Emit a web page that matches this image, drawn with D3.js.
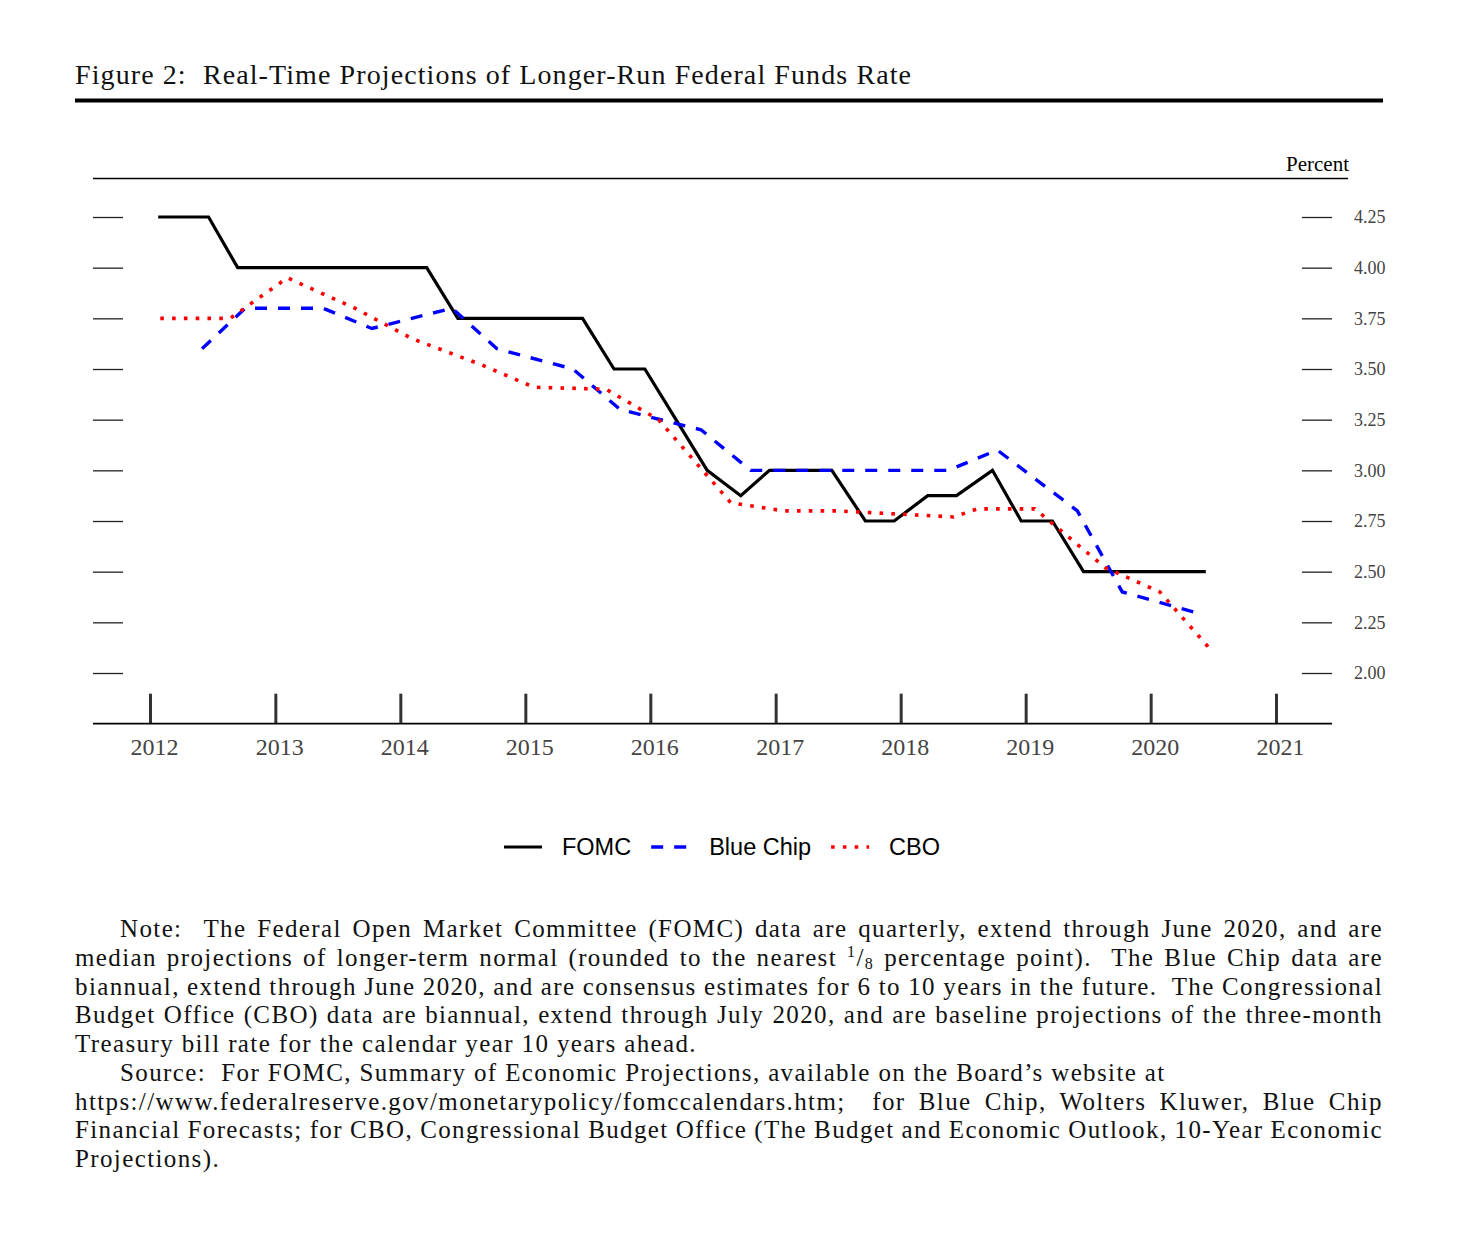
<!DOCTYPE html>
<html>
<head>
<meta charset="utf-8">
<script src="https://cdn.jsdelivr.net/npm/d3@7"></script>
<style>
  body { margin: 0; background: #fff; }
  svg { display: block; }
</style>
</head>
<body>
<svg id="chart" width="1484" height="1251"></svg>
<script>
// FOMC SEP median, longer run (quarterly)
var fomcDates = ["2012-01-25","2012-04-25","2012-06-20","2012-09-13","2012-12-12",
    "2013-03-20","2013-06-19","2013-09-18","2013-12-18","2014-03-19","2014-06-18",
    "2014-09-17","2014-12-17","2015-03-18","2015-06-17","2015-09-17","2015-12-16",
    "2016-03-16","2016-06-15","2016-09-21","2016-12-14","2017-03-15","2017-06-14",
    "2017-09-20","2017-12-13","2018-03-21","2018-06-13","2018-09-26","2018-12-19",
    "2019-03-20","2019-06-19","2019-09-18","2019-12-11","2020-06-10"];
var fomcValues = [4.25,4.25,4.25,4.00,4.00,
    4.00,4.00,4.00,4.00,4.00,3.75,
    3.75,3.75,3.75,3.75,3.50,3.50,
    3.25,3.00,2.875,3.00,3.00,3.00,
    2.75,2.75,2.875,2.875,3.00,2.75,
    2.75,2.50,2.50,2.50,2.50];

// Blue Chip consensus (biannual)
var blueChipDates = ["2012-06-01","2012-10-05","2013-05-20","2013-10-10","2014-06-01",
    "2014-10-10","2015-05-20","2015-10-05","2016-05-28","2016-10-20","2017-06-01",
    "2017-10-10","2018-05-20","2018-10-10","2019-06-01","2019-10-10","2020-05-08"];
var blueChipValues = [3.60,3.80,3.80,3.70,3.80,
    3.60,3.50,3.30,3.20,3.00,3.00,
    3.00,3.00,3.10,2.80,2.40,2.30];

// CBO 3-month bill, 10 years ahead (biannual)
var cboDates = ["2012-01-31","2012-08-22","2013-02-05","2013-08-21","2014-02-04",
    "2014-08-27","2015-01-26","2015-08-25","2016-01-25","2016-08-23","2017-01-24",
    "2017-06-29","2018-06-05","2018-08-13","2019-01-28","2019-08-21","2020-01-28",
    "2020-07-02"];
var cboValues = [3.75,3.75,3.95,3.80,3.65,
    3.52,3.41,3.40,3.25,2.84,2.80,
    2.80,2.77,2.81,2.81,2.52,2.40,
    2.10];

var yearTicks = [2012,2013,2014,2015,2016,2017,2018,2019,2020,2021];
var yTicks = [2.00,2.25,2.50,2.75,3.00,3.25,3.50,3.75,4.00,4.25];

var seriesNames = ["FOMC", "Blue Chip", "CBO"];

var titleText = "Figure 2:  Real-Time Projections of Longer-Run Federal Funds Rate";

var noteLines = [
    "Note:  The Federal Open Market Committee (FOMC) data are quarterly, extend through June 2020, and are",
    "median projections of longer-term normal (rounded to the nearest {frac} percentage point).  The Blue Chip data are",
    "biannual, extend through June 2020, and are consensus estimates for 6 to 10 years in the future.  The Congressional",
    "Budget Office (CBO) data are biannual, extend through July 2020, and are baseline projections of the three-month",
    "Treasury bill rate for the calendar year 10 years ahead.",
    "Source:  For FOMC, Summary of Economic Projections, available on the Board\u2019s website at",
    "https://www.federalreserve.gov/monetarypolicy/fomccalendars.htm;  for Blue Chip, Wolters Kluwer, Blue Chip",
    "Financial Forecasts; for CBO, Congressional Budget Office (The Budget and Economic Outlook, 10-Year Economic",
    "Projections)."
];
var noteIndent = [true,false,false,false,false,true,false,false,false];
var noteJustify = [true,true,true,true,false,false,true,true,false];

// ---------------------------------------------------------------
var svg = d3.select("#chart");
var parse = d3.timeParse("%Y-%m-%d");
var serif = "'Liberation Serif', 'Times New Roman', serif";
var sans = "'Liberation Sans', Arial, sans-serif";

var pageLeft = 75, pageRight = 1383;
var plotLeft = 93, plotRight = 1332;

var x = d3.scaleTime()
    .domain([new Date(2012, 0, 1), new Date(2021, 0, 1)])
    .range([150, 1276]);
var y = d3.scaleLinear().domain([2, 4.25]).range([673, 217]);

function zip(dates, values) {
    return dates.map(function(d, i) { return {date: parse(d), value: values[i]}; });
}
var series = [
    {name: seriesNames[0], data: zip(fomcDates, fomcValues), color: "#000", width: 3.2, dash: null},
    {name: seriesNames[1], data: zip(blueChipDates, blueChipValues), color: "#0000ff", width: 3.4, dash: "12,11"},
    {name: seriesNames[2], data: zip(cboDates, cboValues), color: "#ff0000", width: 3.6, dash: "3.6,8.2"}
];

// title + heavy rule
var title = svg.append("text")
    .attr("x", pageLeft).attr("y", 84)
    .attr("font-family", serif).attr("font-size", 28)
    .attr("fill", "#111")
    .style("white-space", "pre")
    .text(titleText);
title.attr("textLength", 836).attr("lengthAdjust", "spacing");

svg.append("line")
    .attr("x1", pageLeft).attr("x2", pageRight)
    .attr("y1", 100.5).attr("y2", 100.5)
    .attr("stroke", "#000").attr("stroke-width", 4);

// top frame line and unit label
svg.append("line")
    .attr("x1", plotLeft).attr("x2", 1348)
    .attr("y1", 178.5).attr("y2", 178.5)
    .attr("stroke", "#000").attr("stroke-width", 1.3);

svg.append("text")
    .attr("x", 1349).attr("y", 171)
    .attr("text-anchor", "end")
    .attr("font-family", serif).attr("font-size", 21)
    .attr("fill", "#000")
    .text("Percent");

// left ticks (no labels)
var leftAxis = svg.append("g")
    .attr("transform", "translate(" + plotLeft + ",0)")
    .call(d3.axisRight(y).tickValues(yTicks).tickSize(30).tickFormat(""));
leftAxis.select(".domain").remove();
leftAxis.selectAll(".tick line").attr("stroke", "#222").attr("stroke-width", 1.3);

// right ticks with labels
var rightAxis = svg.append("g")
    .attr("transform", "translate(1302,0)")
    .call(d3.axisRight(y).tickValues(yTicks).tickSize(30).tickPadding(22)
        .tickFormat(d3.format(".2f")));
rightAxis.select(".domain").remove();
rightAxis.selectAll(".tick line").attr("stroke", "#222").attr("stroke-width", 1.3);
rightAxis.selectAll(".tick text")
    .attr("font-family", serif).attr("font-size", 18)
    .attr("fill", "#444");

// bottom axis: baseline at 1.75
var baseY = y(1.75);
var bottomAxis = svg.append("g")
    .attr("transform", "translate(0," + baseY + ")")
    .call(d3.axisBottom(x)
        .tickValues(yearTicks.map(function(yr) { return new Date(yr, 0, 1); }))
        .tickSize(-30).tickPadding(14)
        .tickFormat(d3.timeFormat("%Y")));
bottomAxis.select(".domain").remove();
bottomAxis.selectAll(".tick line").attr("stroke", "#333").attr("stroke-width", 3);
bottomAxis.selectAll(".tick text")
    .attr("x", 4)
    .attr("font-family", serif).attr("font-size", 24)
    .attr("fill", "#444");

svg.append("line")
    .attr("x1", plotLeft).attr("x2", plotRight)
    .attr("y1", baseY).attr("y2", baseY)
    .attr("stroke", "#000").attr("stroke-width", 1.6);

// series lines
var line = d3.line()
    .x(function(d) { return x(d.date); })
    .y(function(d) { return y(d.value); });

series.forEach(function(s) {
    svg.append("path")
        .datum(s.data)
        .attr("fill", "none")
        .attr("stroke", s.color)
        .attr("stroke-width", s.width)
        .attr("stroke-dasharray", s.dash)
        .attr("stroke-linejoin", "miter")
        .attr("d", line);
});

// legend, centred under the plot
var legend = svg.append("g").attr("transform", "translate(0,847)");
var items = [];
var sampleW = 38, gap = 20;
series.forEach(function(s) {
    var t = legend.append("text")
        .attr("font-family", sans).attr("font-size", 23.5)
        .attr("fill", "#000")
        .attr("dy", "0.36em")
        .text(s.name);
    items.push({s: s, t: t, w: t.node().getComputedTextLength()});
});
var totalW = d3.sum(items, function(d) { return sampleW + gap + d.w; }) + gap * (items.length - 1);
var cx = 722 - totalW / 2;
items.forEach(function(it) {
    legend.append("line")
        .attr("x1", cx).attr("x2", cx + sampleW)
        .attr("y1", 0).attr("y2", 0)
        .attr("stroke", it.s.color)
        .attr("stroke-width", it.s.width)
        .attr("stroke-dasharray", it.s.dash);
    it.t.attr("x", cx + sampleW + gap);
    cx += sampleW + gap + it.w + gap;
});

// notes (justified like the LaTeX paragraph)
var notes = svg.append("g")
    .attr("font-family", serif).attr("font-size", 25)
    .attr("fill", "#111");

function addLine(str, i) {
    var t = notes.append("text")
        .attr("x", noteIndent[i] ? 120 : pageLeft)
        .attr("y", 937 + i * 28.75)
        .style("white-space", "pre");
    var parts = str.split("{frac}");
    t.append("tspan").text(parts[0]);
    if (parts.length > 1) {
        t.append("tspan").attr("font-size", 16).attr("dy", -9).text("1");
        t.append("tspan").attr("dy", 9).text("/");
        t.append("tspan").attr("font-size", 16).attr("dy", 3).text("8");
        t.append("tspan").attr("dy", -3).text(parts[1]);
    }
    return t;
}

var lines = noteLines.map(addLine);
// letter spacing so the short line "Treasury bill rate..." spans like the original
var natural = lines[4].node().getComputedTextLength();
var ls = (622 - natural) / noteLines[4].length;
lines.forEach(function(t) { t.style("letter-spacing", ls + "px"); });
lines.forEach(function(t, i) {
    if (!noteJustify[i]) return;
    var target = pageRight - (noteIndent[i] ? 120 : pageLeft);
    var w = t.node().getComputedTextLength();
    var spaces = (noteLines[i].replace("{frac}", "1/8").match(/ /g) || []).length;
    t.style("word-spacing", ((target - w) / spaces) + "px");
});
</script>
</body>
</html>
